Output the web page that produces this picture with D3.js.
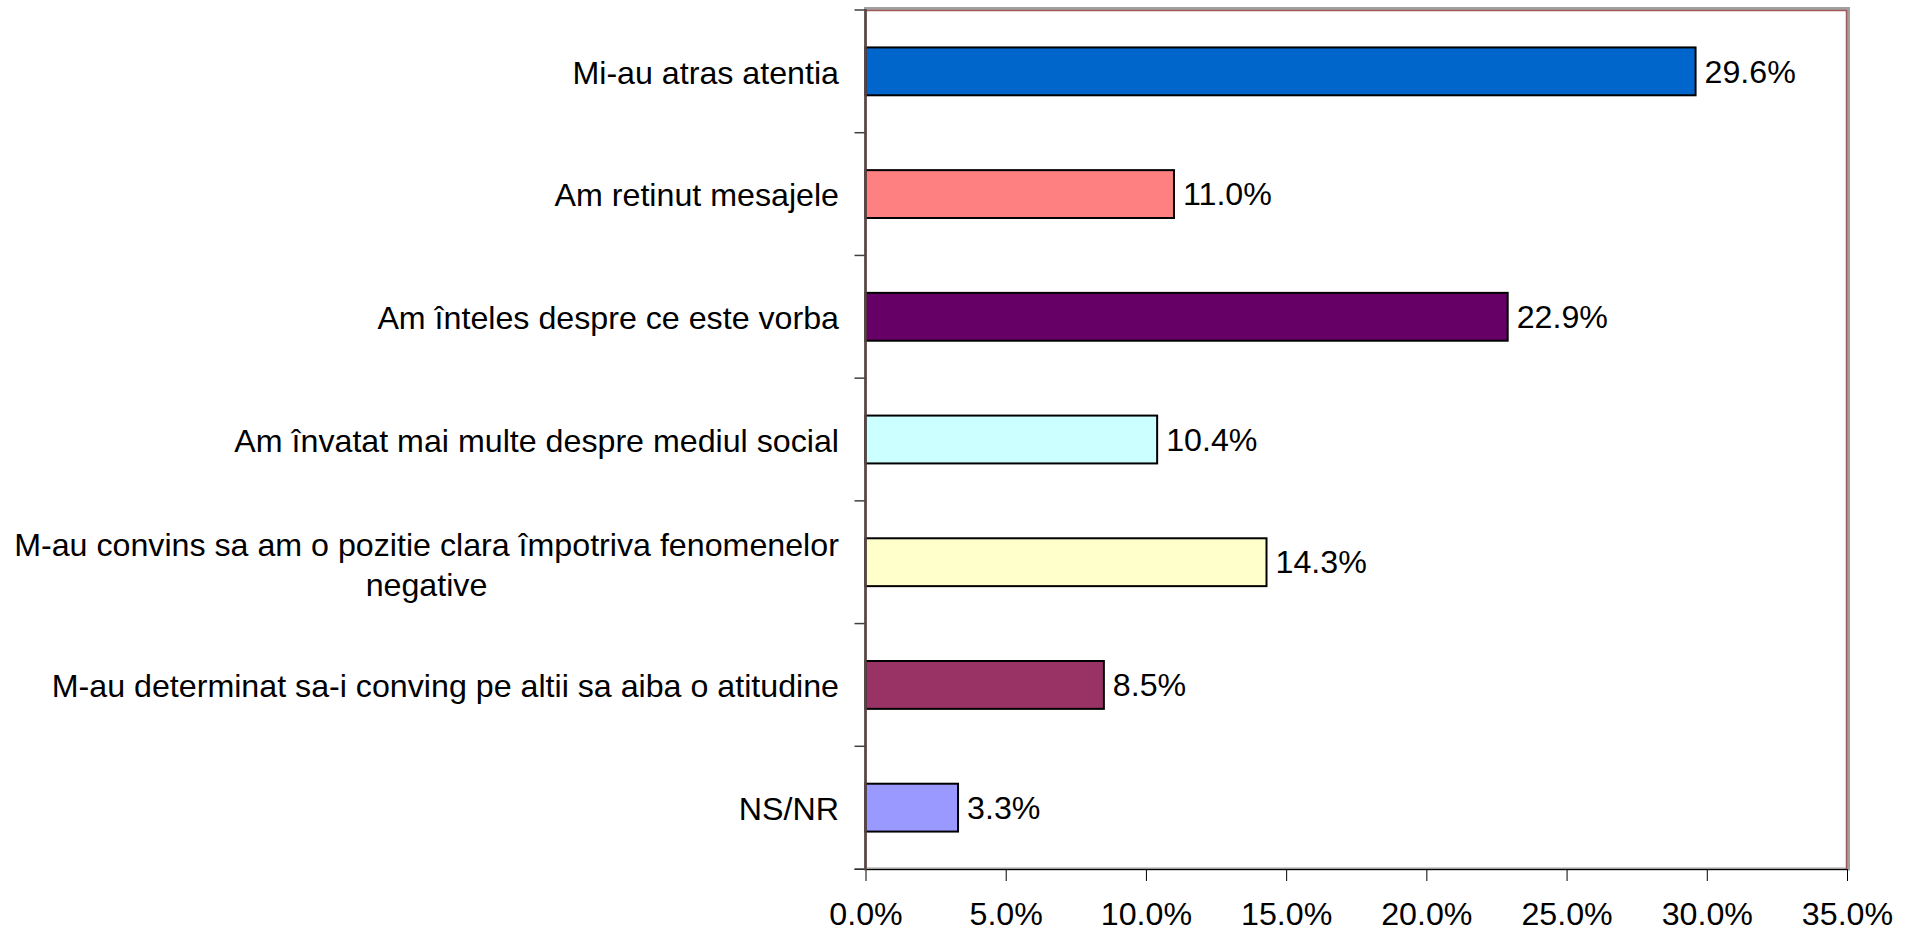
<!DOCTYPE html>
<html>
<head>
<meta charset="utf-8">
<script src="https://cdn.jsdelivr.net/npm/d3@7"></script>
<style>
  html, body { margin: 0; padding: 0; background: #fff; }
  svg { display: block; }
  text { font-family: "Liberation Sans", Arial, sans-serif; fill: #000; }
</style>
</head>
<body>
<svg id="chart" width="1913" height="933"></svg>
<script>
const categories = [
  "Mi-au atras atentia",
  "Am retinut mesajele",
  "Am înteles despre ce este vorba",
  "Am învatat mai multe despre mediul social",
  "M-au convins sa am o pozitie clara împotriva fenomenelor|negative",
  "M-au determinat sa-i conving pe altii sa aiba o atitudine",
  "NS/NR"
];
const values = [29.6, 11.0, 22.9, 10.4, 14.3, 8.5, 3.3];
const colors = ["#0066CC", "#FF8080", "#660066", "#CCFFFF", "#FFFFCC", "#993366", "#9999FF"];
const xTicks = [0, 5, 10, 15, 20, 25, 30, 35];

(function () {
const svg = d3.select("#chart");
const pL = 865.5, pR = 1847, pT = 10, pB = 869;
const fs = 32.2;

const x = d3.scaleLinear().domain([0, 35]).range([pL, pR]);
const y = d3.scaleBand().domain(d3.range(categories.length)).range([pT, pB]).paddingInner(0.61).paddingOuter(0.305);
const yb = d3.scaleBand().domain(d3.range(categories.length)).range([pT, pB]);

svg.append("rect").attr("x", pL).attr("y", pT - 1.5).attr("width", pR - pL + 1.5).attr("height", pB - pT + 1.5)
  .attr("fill", "#fff").attr("stroke", "#a0a0a0").attr("stroke-width", 3);
svg.append("path").attr("d", `M${pL},${pT + 0.5}H${pR - 0.5}V${pB}`)
  .attr("fill", "none").attr("stroke", "#a05a5a").attr("stroke-width", 1.5);

svg.selectAll("rect.bar").data(values).enter().append("rect")
  .attr("class", "bar")
  .attr("x", x(0))
  .attr("y", (d, i) => y(i))
  .attr("width", d => x(d) - x(0))
  .attr("height", y.bandwidth())
  .attr("fill", (d, i) => colors[i])
  .attr("stroke", "#000").attr("stroke-width", 2);

svg.selectAll("text.val").data(values).enter().append("text")
  .attr("class", "val")
  .attr("x", d => x(d) + 9)
  .attr("y", (d, i) => y(i) + y.bandwidth() / 2)
  .attr("dy", "0.35em")
  .attr("font-size", fs)
  .text(d => d.toFixed(1) + "%");

const xAxis = d3.axisBottom(x).tickValues(xTicks).tickSize(12).tickPadding(21)
  .tickFormat(d => d.toFixed(1) + "%");
const gx = svg.append("g").attr("transform", `translate(0,${pB})`).call(xAxis);
gx.select(".domain").attr("stroke", "#000").attr("stroke-width", 1).attr("d", `M${pL - 11},0.5H${pR}`);
gx.selectAll(".tick line").attr("stroke", "#000");
gx.selectAll(".tick text").attr("font-size", fs).attr("font-family", "Liberation Sans, Arial, sans-serif").attr("fill", "#000");

const yTickVals = d3.range(categories.length + 1).map(i => i === categories.length ? pB : yb(i));
svg.selectAll("line.ytick").data(yTickVals).enter().append("line")
  .attr("x1", pL - 11).attr("x2", pL).attr("y1", d => d).attr("y2", d => d)
  .attr("stroke", "#404040").attr("stroke-width", 1.5);
svg.append("line").attr("x1", pL).attr("x2", pL).attr("y1", pT - 1).attr("y2", pB + 1)
  .attr("stroke", "#5a4444").attr("stroke-width", 2.5);

const labelX = 839;
categories.forEach((c, i) => {
  const lines = c.split("|");
  const cy = yb(i) + yb.bandwidth() / 2 + (lines.length > 1 ? 3 : 1);
  const lh = 40;
  const t = svg.append("text").attr("font-size", fs).attr("text-anchor", lines.length > 1 ? "middle" : "end");
  lines.forEach((ln, j) => {
    t.append("tspan").attr("x", labelX).attr("y", cy + (j - (lines.length - 1) / 2) * lh).attr("dy", "0.35em").text(ln);
  });
  if (lines.length > 1) {
    const w = t.node().getBBox().width;
    t.selectAll("tspan").attr("x", labelX - w / 2);
  }
});
})();
</script>
</body>
</html>
